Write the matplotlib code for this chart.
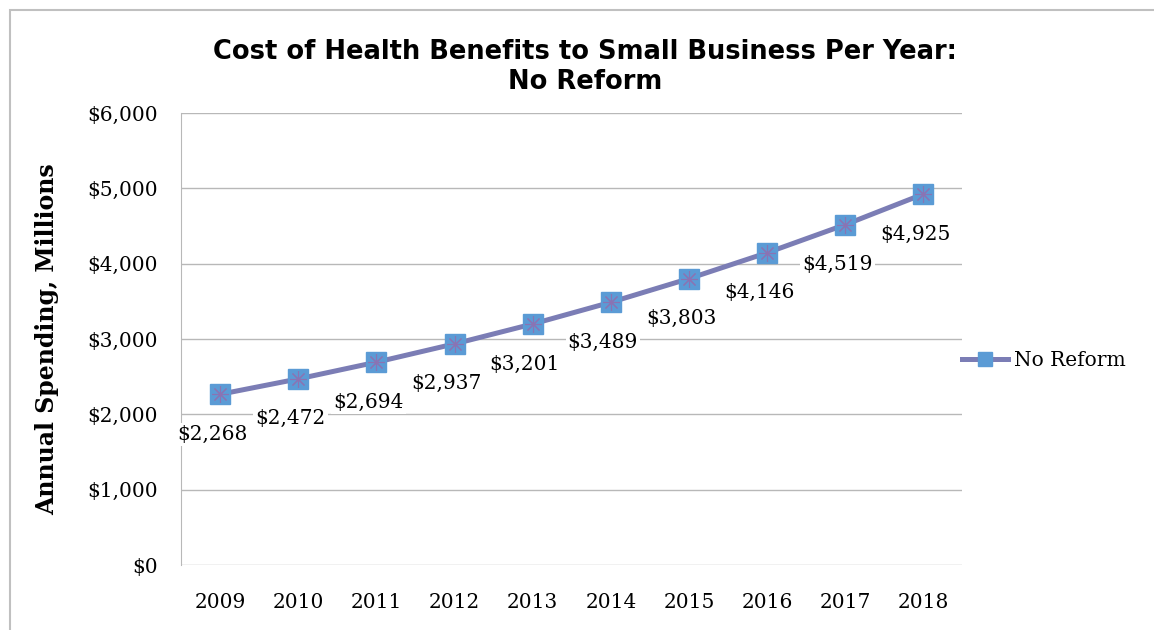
import matplotlib
matplotlib.use("Agg")
from matplotlib import pyplot as plt
from matplotlib.patches import Rectangle

# data
years = ["2009", "2010", "2011", "2012", "2013", "2014", "2015", "2016", "2017", "2018"]
spending = [2268, 2472, 2694, 2937, 3201, 3489, 3803, 4146, 4519, 4925]
yticks = [0, 1000, 2000, 3000, 4000, 5000, 6000]

serif = "DejaVu Serif"
line_col = "#7b7db5"
marker_col = "#5b9bd5"

fig = plt.figure(figsize=(11.54, 6.3), dpi=100)
ax = fig.add_axes([0.157, 0.103, 0.677, 0.7175])

xs = list(range(len(years)))
ax.plot(xs, spending, color=line_col, lw=3.6, marker="s", ms=14,
        mfc=marker_col, mec=marker_col, label="No Reform", zorder=3)
# the little asterisk drawn inside each marker
ax.plot(xs, spending, ls="none", marker=(8, 2, 0), ms=12, mec="#8a73b3",
        mew=0.8, zorder=4)

for x, v in zip(xs, spending):
    ax.annotate("${:,}".format(v), (x, v), xytext=(-8, -40),
                textcoords="offset pixels", ha="center", va="center",
                fontsize=14.5, family=serif, zorder=5,
                bbox=dict(boxstyle="square,pad=0.1", fc="white", ec="none"))

ax.set_xlim(-0.5, len(years) - 0.5)
ax.set_ylim(0, 6000)
ax.set_xticks(xs)
ax.set_xticklabels(years, family=serif, fontsize=14.5)
ax.set_yticks(yticks)
ax.set_yticklabels(["${:,}".format(t) for t in yticks], family=serif, fontsize=14.5)
ax.tick_params(axis="both", length=0)
ax.tick_params(axis="x", pad=20)
ax.tick_params(axis="y", pad=17)

ax.grid(axis="y", color="#b8b8b8", lw=1)
ax.set_axisbelow(True)
for s in ["top", "right", "bottom"]:
    ax.spines[s].set_visible(False)
ax.spines["left"].set_color("#b8b8b8")

ax.set_ylabel("Annual Spending, Millions", family=serif, fontsize=17,
              fontweight="bold", labelpad=20)

fig.text(0.507, 0.893, "Cost of Health Benefits to Small Business Per Year:\nNo Reform",
         ha="center", va="center", fontsize=18.5, fontweight="bold",
         family="DejaVu Sans", linespacing=1.2)

handles, labels = ax.get_legend_handles_labels()
leg = fig.legend(handles[:1], labels[:1], loc="center left",
                 bbox_to_anchor=(0.818, 0.427), frameon=False,
                 prop={"family": serif, "size": 14.5}, handlelength=2.3,
                 handletextpad=0.3, markerscale=0.7)

# outer chart border (right and bottom edges fall outside the image)
fig.patches.append(Rectangle((0.0087, -0.1), 1.2, 1.084, transform=fig.transFigure,
                             fill=False, ec="#c0c0c0", lw=1.5))

fig.savefig("out.png", dpi=100)
